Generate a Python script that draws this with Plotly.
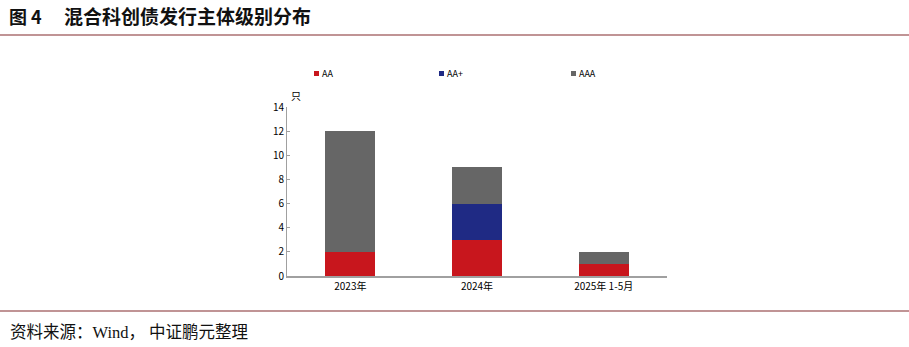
import plotly.graph_objects as go

# Issuer rating distribution of mixed sci-tech bonds
categories = ["2023年", "2024年", "2025年 1-5月"]
series_names = ["AA", "AA+", "AAA"]
aa_values = [2, 3, 1]
aa_plus_values = [0, 3, 0]
aaa_values = [10, 3, 1]
series_colors = ["#c8161d", "#1f2a84", "#666666"]
y_ticks = [0, 2, 4, 6, 8, 10, 12, 14]

W, H = 909, 347
L, R, T, B = 287, 242, 107, 71
plot_w = W - L - R
plot_h = H - T - B

def px_x(x):
    return (x - L) / plot_w

def px_y(y):
    return (H - B - y) / plot_h

fig = go.Figure()
for name, vals, col in zip(series_names, [aa_values, aa_plus_values, aaa_values], series_colors):
    fig.add_trace(go.Bar(x=categories, y=vals, name=name, marker_color=col,
                         marker_line_width=0, width=0.395))

sans = "Noto Sans CJK SC"
serif = "Liberation Serif, Noto Sans CJK SC"

fig.update_layout(
    width=W, height=H, barmode="stack", showlegend=False,
    margin=dict(l=L, r=R, t=T, b=B),
    paper_bgcolor="white", plot_bgcolor="white",
    font=dict(family=sans, size=10, color="#000"),
    xaxis=dict(showline=True, linecolor="#a0a0a0", linewidth=2, ticks="",
               tickfont=dict(size=10), showgrid=False),
    yaxis=dict(range=[0, 14], tickvals=y_ticks, showline=True, linecolor="#a0a0a0",
               linewidth=1, ticks="inside", ticklen=3, tickcolor="#a0a0a0",
               showgrid=False, zeroline=False, tickfont=dict(size=10)),
)

rule_color = "#822a2c"
shapes = [
    dict(type="line", xref="paper", yref="paper", x0=px_x(0), x1=px_x(W),
         y0=px_y(35), y1=px_y(35), line=dict(color=rule_color, width=1.2)),
    dict(type="line", xref="paper", yref="paper", x0=px_x(0), x1=px_x(W),
         y0=px_y(311), y1=px_y(311), line=dict(color=rule_color, width=1.2)),
]
annotations = [
    dict(text="<b>图 4</b>", x=px_x(7), y=px_y(16), xref="paper", yref="paper",
         xanchor="left", yanchor="middle", showarrow=False,
         font=dict(family=sans, size=18, color="#111")),
    dict(text="<b>混合科创债发行主体级别分布</b>", x=px_x(62), y=px_y(16), xref="paper",
         yref="paper", xanchor="left", yanchor="middle", showarrow=False,
         font=dict(family=sans, size=19, color="#111")),
    dict(text="资料来源：Wind， 中证鹏元整理", x=px_x(8), y=px_y(332), xref="paper",
         yref="paper", xanchor="left", yanchor="middle", showarrow=False,
         font=dict(family=serif, size=16.5, color="#111")),
    dict(text="只", x=px_x(296), y=px_y(96), xref="paper", yref="paper",
         xanchor="center", yanchor="middle", showarrow=False, font=dict(size=10)),
]

# Legend drawn as small squares with labels
legend_x = [314, 439, 571]
for name, col, lx in zip(series_names, series_colors, legend_x):
    shapes.append(dict(type="rect", xref="paper", yref="paper",
                       x0=px_x(lx), x1=px_x(lx + 5), y0=px_y(71), y1=px_y(76),
                       fillcolor=col, line=dict(width=0)))
    annotations.append(dict(text=name, x=px_x(lx + 6), y=px_y(73.5), xref="paper",
                            yref="paper", xanchor="left", yanchor="middle",
                            showarrow=False, font=dict(size=9)))

fig.update_layout(shapes=shapes, annotations=annotations)
fig.write_html("out.html")
